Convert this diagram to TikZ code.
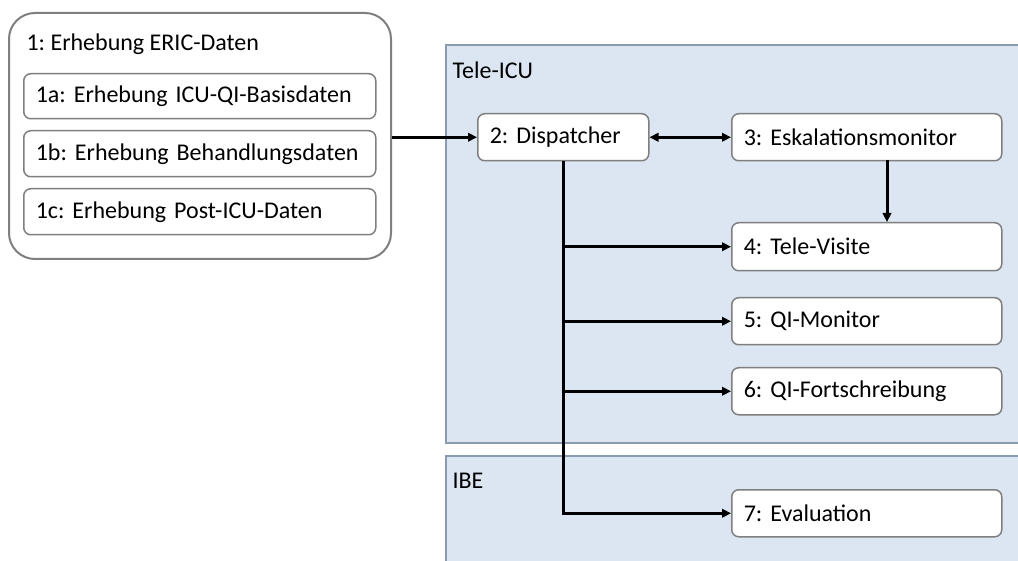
\documentclass[tikz,border=0pt]{standalone}
\usepackage{fontspec}
\setmainfont{Carlito}
\usetikzlibrary{arrows.meta}
\definecolor{panelfill}{HTML}{DCE6F2}
\definecolor{panelline}{HTML}{8A9BB0}
\definecolor{boxline}{HTML}{7F7F7F}
\tikzset{
  txt/.style={font=\fontsize{24}{28}\selectfont\frenchspacing},
  box/.style={txt, draw=boxline, line width=1.5pt, fill=white, rounded corners=7pt,
    anchor=north west, inner xsep=12pt, inner ysep=0pt, align=left},
  widebox/.style={box, minimum width=270pt, text width=246pt},
  conn/.style={line width=3pt, -{Triangle[length=9pt,width=8.5pt]}},
}
\begin{document}
\begin{tikzpicture}[x=1pt,y=-1pt]
		\clip (0,0) rectangle (1018,561);
		\fill[white] (0,0) rectangle (1018,561);
		
		\draw[fill=panelfill, draw=panelline, line width=1.2pt] (446,45) rectangle (1030,443);
		\draw[fill=panelfill, draw=panelline, line width=1.2pt] (446,456) rectangle (1030,580);
		\node[txt, anchor=west] (teleicu) at (449,70) {Tele-ICU};
		\node[txt, anchor=west] (ibe) at (449,481) {IBE};
		
		\node[draw=boxline, line width=2pt, fill=white, rounded corners=26pt, anchor=north west,
		  minimum width=382pt, minimum height=246pt] (eric) at (8,12) {};
		\node[txt, anchor=west] (erictitle) at (23,44) {1: Erhebung ERIC-Daten};
		\node[box, minimum width=352pt, text width=328pt, minimum height=45pt] (basis) at (23,73) {1a: Erhebung ICU-QI-Basisdaten};
		\node[box, minimum width=352pt, text width=328pt, minimum height=46pt] (behandl) at (23,130) {1b: Erhebung Behandlungsdaten};
		\node[box, minimum width=352pt, text width=328pt, minimum height=46pt] (post) at (23,188) {1c: Erhebung Post-ICU-Daten};
		
		\node[box, minimum width=171pt, text width=147pt, minimum height=47pt] (disp) at (477,113) {2: Dispatcher};
		\node[widebox, minimum height=47pt] (eskal) at (731,113) {3: Eskalationsmonitor};
		\node[widebox, minimum height=48pt] (visite) at (731,222) {4: Tele-Visite};
		\node[widebox, minimum height=47pt] (qimon) at (731,297) {5: QI-Monitor};
		\node[widebox, minimum height=47pt] (qifort) at (731,367) {6: QI-Fortschreibung};
		\node[widebox, minimum height=47pt] (eval) at (731,489) {7: Evaluation};
		
		\coordinate (eskout) at (887,160);
		
		\draw[conn] (eric.east |- disp.west) -- (disp.west);
		\draw[conn, {Triangle[length=9pt,width=8.5pt]}-{Triangle[length=9pt,width=8.5pt]}] (disp.east) -- (eskal.west);
		\draw[conn] (eskout) -- (eskout |- visite.north);
		\draw[conn] (disp.south) |- (eval.west);
		\draw[conn] (disp.south |- visite.west) -- (visite.west);
		\draw[conn] (disp.south |- qimon.west) -- (qimon.west);
		\draw[conn] (disp.south |- qifort.west) -- (qifort.west);
		\end{tikzpicture}
\end{document}
